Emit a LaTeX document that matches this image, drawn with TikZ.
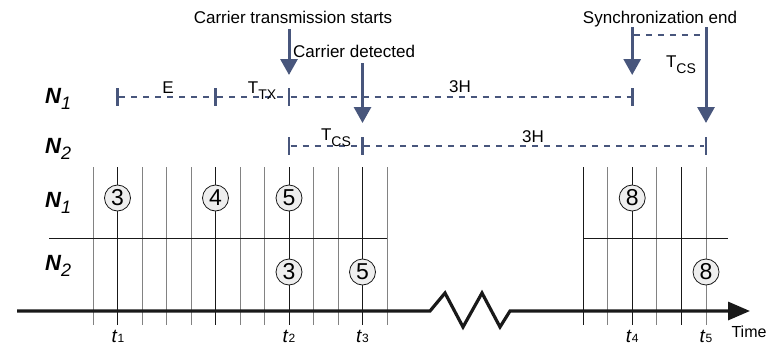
\documentclass[tikz,border=0pt]{standalone}
\usepackage{fontspec}
\setmainfont{Liberation Sans}
\usepackage{tikz}
\usetikzlibrary{arrows.meta, positioning, calc}
\definecolor{slotLine}{RGB}{72,86,124}
\definecolor{gridGray}{RGB}{130,130,130}
\definecolor{stateFill}{RGB}{238,238,238}
\definecolor{ink}{RGB}{25,25,25}
\newcommand{\rowN}[1]{N\raisebox{-6pt}{\fontsize{18}{18}\selectfont\mdseries\itshape #1}}
\newcommand{\tsub}[2]{#1\kern0pt\raisebox{-6pt}{\fontsize{14}{14}\selectfont #2}}
\newcommand{\tmark}[1]{\textit{t}{\fontsize{12}{12}\selectfont #1}}
\tikzset{
  gridLine/.style={draw=gridGray, line width=0.8pt},
  gridMark/.style={draw=ink, line width=0.8pt},
  rowSep/.style={draw=ink, line width=0.8pt},
  slot/.style={draw=slotLine, line width=1.1pt, dash pattern=on 6pt off 6pt},
  tickMark/.style={rectangle, fill=slotLine, inner sep=0pt, minimum width=2.8pt, minimum height=18pt},
  syncTick/.style={tickMark, minimum height=15pt},
  event/.style={-{Triangle[length=16pt,width=17pt]}, draw=slotLine, fill=slotLine, line width=3pt},
  timeAxis/.style={-{Triangle[length=22pt,width=18pt]}, draw=ink, line width=3.2pt},
  stateNode/.style={circle, draw=ink, line width=0.8pt, fill=stateFill, inner sep=0pt,
    minimum size=26pt, font=\fontsize{23}{23}\selectfont},
  rowLabel/.style={font=\fontsize{22}{22}\selectfont\bfseries\itshape, inner sep=0pt, anchor=base west},
  timeLabel/.style={font=\fontsize{19}{19}\selectfont, inner sep=0pt, anchor=base},
  eventLabel/.style={font=\fontsize{17}{17}\selectfont, inner sep=0pt, anchor=base},
  durLabel/.style={font=\fontsize{17}{17}\selectfont, inner sep=0pt, anchor=base}
}

\begin{document}
\begin{tikzpicture}[x=1pt, y=-1pt]
  \useasboundingbox (0,0) rectangle (783,345);

  % slot grid
  \foreach \gx in {93,142,166.5,191,240,264.5,313.5,338,387,607.6,656.8,706}
    \draw[gridLine] (\gx,167) -- (\gx,325);
  \foreach \gx in {117.5,215.5,289,362.5,583,632.2,681.4}
    \draw[gridMark] (\gx,167) -- (\gx,325);
  \draw[rowSep] (49,238) -- (387,238);
  \draw[rowSep] (583,238) -- (728,238);

  % time axis
  \coordinate (axisStart) at (17,311);
  \coordinate (axisEnd) at (750,311);
  \draw[timeAxis] (axisStart) -- (430,311) -- (445,293) -- (463,327) -- (482,293)
    -- (500,327) -- (510,311) -- (axisEnd);
  \node[font=\fontsize{16}{16}\selectfont, inner sep=0pt, anchor=base] (time) at (749,337) {Time};

  % time instants
  \node[timeLabel] (lt1) at (118,342) {\tmark{1}};
  \node[timeLabel] (lt2) at (289,342) {\tmark{2}};
  \node[timeLabel] (lt3) at (362.5,342) {\tmark{3}};
  \node[timeLabel] (lt4) at (632.2,342) {\tmark{4}};
  \node[timeLabel] (lt5) at (706,342) {\tmark{5}};

  % row labels
  \node[rowLabel] (topN1) at (45,103) {\rowN{1}};
  \node[rowLabel] (topN2) at (45,153) {\rowN{2}};
  \node[rowLabel] (gridN1) at (45,207) {\rowN{1}};
  \node[rowLabel] (gridN2) at (45,270) {\rowN{2}};

  % states
  \node[stateNode] (n1s3) at (117.5,198) {3};
  \node[stateNode] (n1s4) at (215.5,198) {4};
  \node[stateNode] (n1s5) at (289,198) {5};
  \node[stateNode] (n1s8) at (632.2,198) {8};
  \node[stateNode] (n2s3) at (289,272) {3};
  \node[stateNode] (n2s5) at (362.5,272) {5};
  \node[stateNode] (n2s8) at (706,272) {8};

  % N1 timeline
  \node[tickMark] (a1) at (117.5,97) {};
  \node[tickMark] (a2) at (215.5,97) {};
  \node[tickMark] (a3) at (289,97) {};
  \node[tickMark] (a4) at (632.2,97) {};
  \draw[slot] (a1) -- (a2) -- (a3) -- (a4);
  \node[durLabel] (lE) at (168,93) {E};
  \node[durLabel] (lTX) at (262,93) {\tsub{T}{TX}};
  \node[durLabel] (l3H1) at (460,92) {3H};

  % N2 timeline
  \node[tickMark] (b1) at (289,146) {};
  \node[tickMark] (b2) at (362.5,146) {};
  \node[tickMark] (b3) at (706,146) {};
  \draw[slot] (b1) -- (b2) -- (b3);
  \node[durLabel] (lCS1) at (336,140) {\tsub{T}{CS}};
  \node[durLabel] (l3H2) at (533,142) {3H};

  % synchronization
  \node[syncTick] (s1) at (632.2,35) {};
  \node[syncTick] (s2) at (706,35) {};
  \draw[slot] (s1) -- (s2);
  \node[durLabel] (lCS2) at (681,67) {\tsub{T}{CS}};

  % events
  \coordinate (txStart) at (289,29);
  \coordinate (txTip) at (289,75);
  \coordinate (cdStart) at (362.5,63);
  \coordinate (cdTip) at (362.5,123);
  \coordinate (syTip1) at (632.2,75);
  \coordinate (syTip2) at (706,123);
  \draw[event] (txStart) -- (txTip);
  \draw[event] (cdStart) -- (cdTip);
  \draw[event] (s1.north) -- (syTip1);
  \draw[event] (s2.north) -- (syTip2);
  \node[eventLabel] (lTxs) at (293,24) {Carrier transmission starts};
  \node[eventLabel, anchor=base west] (lCd) at (293,57) {Carrier detected};
  \node[eventLabel] (lSync) at (660,24) {Synchronization end};
\end{tikzpicture}
\end{document}
